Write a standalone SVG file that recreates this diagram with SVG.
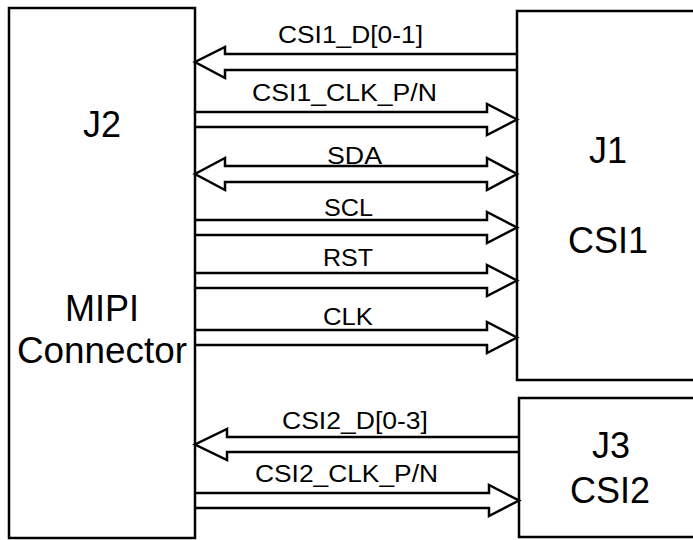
<svg xmlns="http://www.w3.org/2000/svg" width="693" height="540" viewBox="0 0 693 540">
<style>
.box{fill:#fff;stroke:#000;stroke-width:2.5}
.big{font-family:"Liberation Sans",Arial,sans-serif;font-size:36px;fill:#000;text-anchor:middle}
.lbl{font-family:"Liberation Sans",Arial,sans-serif;font-size:23px;fill:#000}
.arr{fill:none;stroke:#000;stroke-width:2.5;stroke-linejoin:miter}
</style>
<rect width="693" height="540" fill="#fff"/>
<g id="J2">
<rect class="box" x="9" y="8" width="186" height="530"/>
<text class="big" x="102" y="137">J2</text>
<text class="big" x="102" y="321">MIPI</text>
<text class="big" x="102" y="363" textLength="170" lengthAdjust="spacingAndGlyphs">Connector</text>
</g>
<g id="J1">
<rect class="box" x="517" y="11" width="200" height="369"/>
<text class="big" x="608" y="163">J1</text>
<text class="big" x="608" y="253">CSI1</text>
</g>
<g id="J3">
<rect class="box" x="519" y="398" width="200" height="139"/>
<text class="big" x="611" y="458">J3</text>
<text class="big" x="610" y="503">CSI2</text>
</g>
<g id="connectors">
<path class="arr" d="M517,54 H225 V47 L195,62 L225,78 V70 H517"/>
<path class="arr" d="M195,112 H487 V104 L517,119.5 L487,135 V127 H195"/>
<path class="arr" d="M225,166 H487 V158 L517,174 L487,190 V182 H225 V190 L195,174 L225,158 Z"/>
<path class="arr" d="M195,220 H487 V212 L517,227.5 L487,243 V235 H195"/>
<path class="arr" d="M195,273 H487 V265 L517,280.5 L487,296 V288 H195"/>
<path class="arr" d="M195,330 H487 V322 L517,337.5 L487,353 V345 H195"/>
<path class="arr" d="M519,437 H227 V429 L195,444.5 L227,460 V452 H519"/>
<path class="arr" d="M195,493 H489 V485 L519,500.5 L489,516 V508 H195"/>
</g>
<g id="labels">
<text class="lbl" x="278" y="43" textLength="145" lengthAdjust="spacingAndGlyphs">CSI1_D[0-1]</text>
<text class="lbl" x="252" y="101" textLength="185" lengthAdjust="spacingAndGlyphs">CSI1_CLK_P/N</text>
<text class="lbl" x="327" y="164" textLength="55" lengthAdjust="spacingAndGlyphs">SDA</text>
<text class="lbl" x="324" y="216" textLength="49" lengthAdjust="spacingAndGlyphs">SCL</text>
<text class="lbl" x="323" y="266" textLength="50" lengthAdjust="spacingAndGlyphs">RST</text>
<text class="lbl" x="323" y="325" textLength="50" lengthAdjust="spacingAndGlyphs">CLK</text>
<text class="lbl" x="282" y="429" textLength="146" lengthAdjust="spacingAndGlyphs">CSI2_D[0-3]</text>
<text class="lbl" x="255" y="482" textLength="183" lengthAdjust="spacingAndGlyphs">CSI2_CLK_P/N</text>
</g>
</svg>
